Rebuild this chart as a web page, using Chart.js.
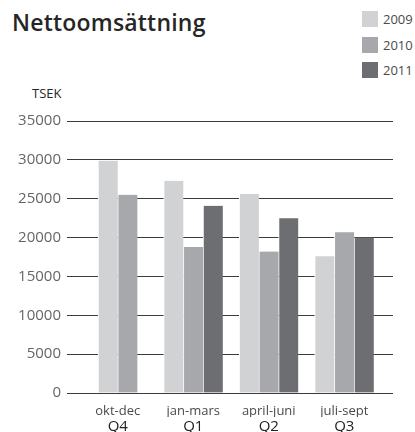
<!DOCTYPE html>
<html>
<head>
<meta charset="utf-8">
<script src="https://cdn.jsdelivr.net/npm/chart.js@4.4.1/dist/chart.umd.min.js"></script>
<style>
  html, body { margin: 0; padding: 0; background: #fff; overflow: hidden; }
  body { width: 415px; height: 432px; position: relative; font-family: "Open Sans", sans-serif; }
  #wrap { position: absolute; left: 0; top: 0; width: 415px; height: 450px; }
  #title { position: absolute; left: 12px; top: 6px; margin: 0; font-size: 23px; font-weight: 600; color: #262626; letter-spacing: 0.2px; }
  #unit { position: absolute; left: 32px; top: 84px; font-size: 13px; color: #262626; }
  #legend { position: absolute; left: 362px; top: 11px; }
  .item { height: 25.5px; display: flex; align-items: flex-start; font-size: 13px; color: #4a4a4a; white-space: nowrap; }
  .box { width: 16px; height: 16px; margin-right: 5px; }
  .item span { line-height: 16px; }
</style>
</head>
<body>
<h1 id="title">Nettoomsättning</h1>
<div id="legend"></div>
<div id="unit">TSEK</div>
<div id="wrap"><canvas id="chart"></canvas></div>
<script>
// periods and quarters on the x axis
const periods = ['okt-dec', 'jan-mars', 'april-juni', 'juli-sept'];
const quarters = ['Q4', 'Q1', 'Q2', 'Q3'];

// years and their bar colours
const years = ['2009', '2010', '2011'];
const yearColors = ['#d1d2d4', '#a7a8ab', '#6d6e71'];

// net sales, TSEK (2011 has no okt-dec quarter)
const sales2009 = [29900, 27300, 25600, 17600];
const sales2010 = [25500, 18800, 18200, 20700];
const sales2011 = [null, 24100, 22500, 20000];

const yTicks = [0, 5000, 10000, 15000, 20000, 25000, 30000, 35000];

// legend in html, top right
const legendEl = document.getElementById('legend');
years.forEach((year, i) => {
    const item = document.createElement('div');
    item.className = 'item';
    item.innerHTML = `<div class="box" style="background:${yearColors[i]}"></div><span>${year}</span>`;
    legendEl.appendChild(item);
});

const seriesData = [sales2009, sales2010, sales2011];

const gridColor = '#3c3c3c';

new Chart(document.getElementById('chart'), {
    type: 'bar',
    data: {
        labels: periods,
        datasets: years.map((year, i) => ({
            label: year,
            data: seriesData[i],
            backgroundColor: yearColors[i],
            borderColor: '#ffffff',
            borderWidth: { left: 1, right: 0, top: 0, bottom: 0 },
            borderSkipped: false,
            barThickness: 19.7,
            skipNull: true
        }))
    },
    options: {
        responsive: true,
        maintainAspectRatio: false,
        animation: false,
        layout: { padding: { top: 121, bottom: 13, left: 0, right: 0 } },
        plugins: {
            legend: { display: false },
            tooltip: { enabled: false }
        },
        scales: {
            x: {
                afterFit: scale => { scale.height = 24; },
                grid: { display: false, drawTicks: false },
                border: { display: false },
                ticks: { color: '#4a4a4a', padding: 10, font: { family: 'Open Sans', size: 13 } }
            },
            x2: {
                type: 'category',
                labels: quarters,
                position: 'bottom',
                afterFit: scale => { scale.height = 20; },
                grid: { display: false, drawTicks: false },
                border: { display: false },
                ticks: { color: '#222', padding: 1, font: { family: 'Open Sans', size: 15 } }
            },
            y: {
                min: 0,
                max: 35000,
                afterBuildTicks: scale => { scale.ticks = yTicks.map(v => ({ value: v })); },
                afterFit: scale => { scale.width = 80; },
                grid: { color: gridColor, lineWidth: 1, tickLength: 13, drawTicks: true, tickColor: gridColor },
                border: { display: false },
                ticks: {
                    color: '#666',
                    padding: 6,
                    font: { family: 'Open Sans', size: 15 },
                    callback: v => String(v)
                }
            },
            // only there so the grid lines run a bit past the last bar group
            y2: {
                position: 'right',
                min: 0,
                max: 35000,
                afterBuildTicks: scale => { scale.ticks = yTicks.map(v => ({ value: v })); },
                afterFit: scale => { scale.width = 33; },
                grid: { drawOnChartArea: false, tickLength: 11, drawTicks: true, tickColor: gridColor },
                border: { display: false },
                ticks: { display: false }
            }
        }
    }
});
</script>
</body>
</html>
